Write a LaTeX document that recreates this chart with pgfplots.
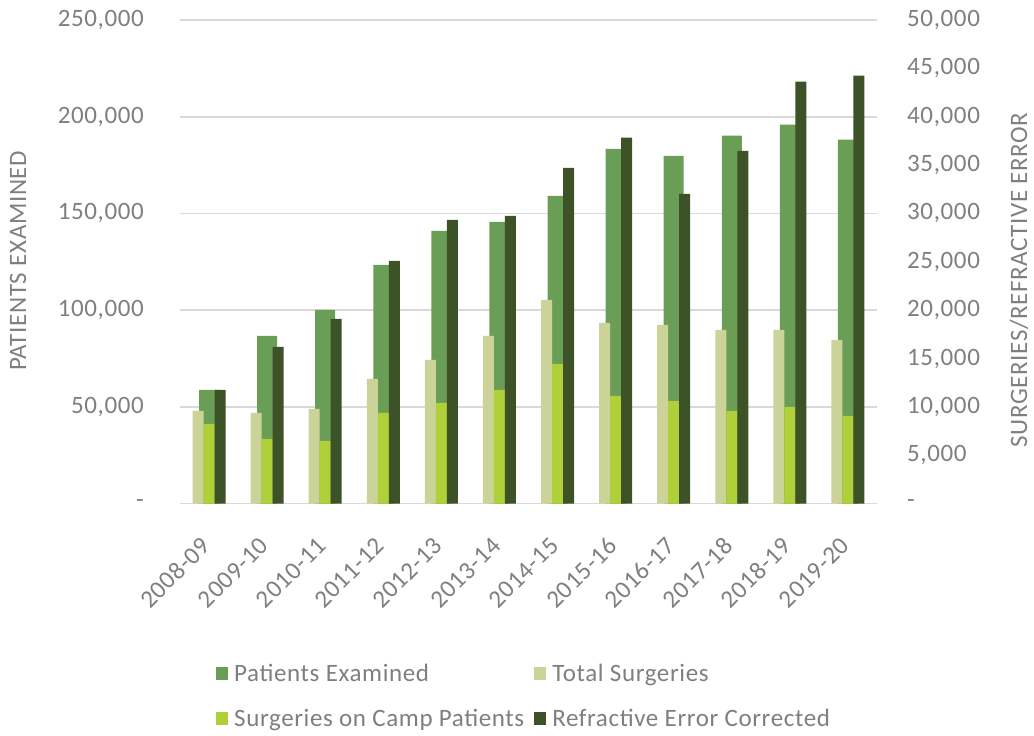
\documentclass[border=0pt]{standalone}
\usepackage{pgfplots}
\pgfplotsset{compat=1.18}
\usepackage{fontspec}
\setmainfont{Carlito}[LetterSpace=2.5]
\definecolor{txt}{HTML}{7F7F7F}
\definecolor{pe}{HTML}{6A9D55}
\definecolor{ts}{HTML}{CBD399}
\definecolor{cs}{HTML}{B0D039}
\definecolor{re}{HTML}{3D5226}
\definecolor{grd}{HTML}{D9D9D9}
\newcommand{\cf}{\fontsize{25bp}{30bp}\selectfont}
\pgfplotsset{
  base/.style={
    at={(180bp,232.4bp)}, anchor=south west, scale only axis,
    width=697bp, height=483.6bp,
    xmin=-0.5, xmax=11.5,
    axis line style={draw=none},
    major tick length=0pt,
    scaled y ticks=false,
    tick label style={font=\cf, text=txt},
  },
  sq legend/.style={legend image code/.code={\fill[##1] (0bp,-6.5bp) rectangle (12bp,6.5bp);}},
}
\begin{document}
\begin{tikzpicture}
\path[use as bounding box] (0,0) rectangle (1034bp,736bp);
\begin{axis}[base,
  ymin=0, ymax=250000,
  ytick={0,50000,100000,150000,200000,250000},
  yticklabels={-,{50,000},{100,000},{150,000},{200,000},{250,000}},
  ymajorgrids, grid style={grd, line width=1.6bp},
  yticklabel style={anchor=east, inner sep=0pt},
  yticklabel shift=36bp,
  xtick={0,...,11},
  xticklabels={2008-09,2009-10,2010-11,2011-12,2012-13,2013-14,2014-15,2015-16,2016-17,2017-18,2018-19,2019-20},
  xticklabel style={anchor=east, inner sep=0pt, xshift=-3bp, yshift=-38bp, rotate=45},
  every axis y label/.style={at={(axis description cs:-0.2324,0.5017)}, anchor=center, rotate=90, font=\cf, text=txt},
  ylabel={PATIENTS EXAMINED},
]
\addplot[ybar, bar width=20bp, bar shift=0bp, fill=pe, draw=none] coordinates {
(0,58800) (1,86700) (2,100200) (3,123400) (4,141000) (5,145700)
(6,159100) (7,183400) (8,179800) (9,190200) (10,195900) (11,188100)};
\end{axis}
\begin{axis}[base,
  ymin=0, ymax=50000,
  ytick={0,5000,10000,15000,20000,25000,30000,35000,40000,45000,50000},
  yticklabels={-,{5,000},{10,000},{15,000},{20,000},{25,000},{30,000},{35,000},{40,000},{45,000},{50,000}},
  yticklabel pos=right,
  yticklabel style={anchor=west, inner sep=0pt},
  yticklabel shift=30bp,
  xtick=\empty,
  every axis y label/.style={at={(axis description cs:1.2038,0.4624)}, anchor=center, rotate=90, font=\cf, text=txt},
  ylabel={SURGERIES/REFRACTIVE ERROR},
  legend columns=2,
  legend cell align=left,
  legend style={at={(axis description cs:0.0517,-0.332)}, anchor=north west, draw=none, fill=none, inner sep=0pt,
    font=\cf, text=txt, nodes={inner sep=0pt},
    row sep=26bp,
    /tikz/every odd column/.append style={column sep=6bp},
    /tikz/every even column/.append style={column sep=10bp}},
]
\addlegendimage{fill=pe, draw=none, sq legend}
\addlegendentry{Patients Examined}
\addplot[ybar, bar width=11bp, bar shift=-11bp, fill=ts, draw=none, sq legend] coordinates {
(0,9580) (1,9370) (2,9790) (3,12890) (4,14860) (5,17340)
(6,21070) (7,18690) (8,18480) (9,17960) (10,17960) (11,16930)};
\addlegendentry{Total Surgeries}
\addplot[ybar, bar width=11bp, bar shift=0bp, fill=cs, draw=none, sq legend] coordinates {
(0,8240) (1,6680) (2,6480) (3,9370) (4,10410) (5,11750)
(6,14440) (7,11130) (8,10620) (9,9580) (10,9990) (11,9060)};
\addlegendentry{Surgeries on Camp Patients}
\addplot[ybar, bar width=11bp, bar shift=11bp, fill=re, draw=none, sq legend] coordinates {
(0,11750) (1,16200) (2,19100) (3,25100) (4,29340) (5,29760)
(6,34720) (7,37830) (8,32030) (9,36480) (10,43620) (11,44240)};
\addlegendentry{Refractive Error Corrected}
\end{axis}
\end{tikzpicture}
\end{document}
